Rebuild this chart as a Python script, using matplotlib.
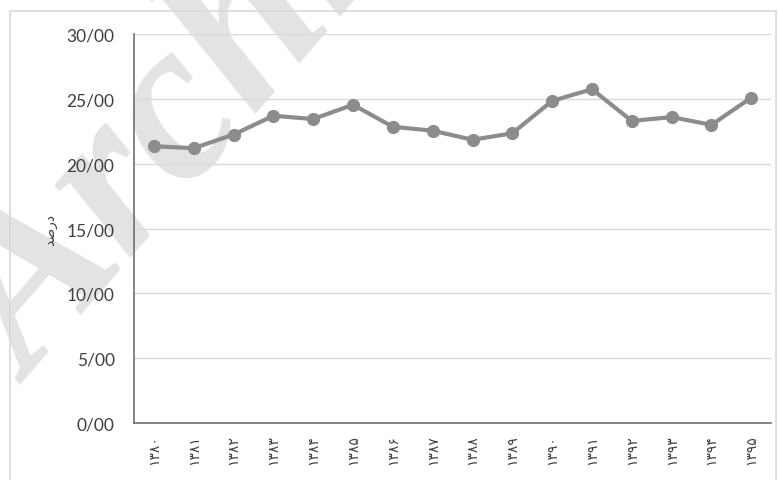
import matplotlib
matplotlib.use("Agg")
from matplotlib import pyplot as plt
from matplotlib.patches import Rectangle
from matplotlib.ticker import FuncFormatter, MultipleLocator

years = ["۱۳۸۰", "۱۳۸۱", "۱۳۸۲", "۱۳۸۳", "۱۳۸۴", "۱۳۸۵", "۱۳۸۶", "۱۳۸۷",
         "۱۳۸۸", "۱۳۸۹", "۱۳۹۰", "۱۳۹۱", "۱۳۹۲", "۱۳۹۳", "۱۳۹۴", "۱۳۹۵"]
percent = [21.35, 21.2, 22.25, 23.7, 23.45, 24.55, 22.85, 22.55,
           21.85, 22.35, 24.85, 25.75, 23.3, 23.6, 23.0, 25.1]

# "درصد" in presentation forms, visual order
ylabel = "\uFEAA\uFEBB\uFEAD\uFEA9"

plt.rcParams['font.family'] = ['Lato', 'DejaVu Sans']

fig = plt.figure(figsize=(7.79, 4.81), dpi=100)
ax = fig.add_axes([0.172, 0.1185, 0.818, 0.8085])
ax.set_zorder(1)

# watermark, behind everything
fig.text(32/779, 1 - 385/481, "Archive", fontsize=165, family='Liberation Serif',
         style='italic', weight='bold', color='#e3e3e3', rotation=49,
         ha='left', va='baseline', rotation_mode='anchor', zorder=-1)
fig.patches.append(Rectangle((10/779, -0.1), 766/779, 1 - 12/481 + 0.1,
                             transform=fig.transFigure, fill=False,
                             edgecolor='#d9d9d9', linewidth=1.2))

x = list(range(len(years)))
ax.plot(x, percent, color='#8c8c8c', linewidth=3, marker='o', markersize=8.5,
        markerfacecolor='#8c8c8c', markeredgecolor='#8c8c8c', zorder=3)

ax.set_xlim(-0.5, len(years) - 0.5)
ax.set_ylim(0, 30)
ax.yaxis.set_major_locator(MultipleLocator(5))
ax.yaxis.set_major_formatter(FuncFormatter(lambda v, p: f"{v:.2f}".replace('.', '/')))
ax.set_xticks(x)
ax.set_xticklabels(years, rotation=90, fontsize=10, family='DejaVu Sans', color='#404040')
ax.tick_params(axis='y', length=0, pad=14, labelsize=12.5, labelcolor='#404040')
ax.tick_params(axis='x', length=0, pad=8)

ax.grid(axis='y', color='#d9d9d9', linewidth=1)
ax.set_axisbelow(True)
ax.patch.set_alpha(0)
for s in ['top', 'right']:
    ax.spines[s].set_visible(False)
for s in ['left', 'bottom']:
    ax.spines[s].set_color('#707070')
    ax.spines[s].set_linewidth(1.2)

ax.text(-0.132, 0.5, ylabel, transform=ax.transAxes, rotation=90, fontsize=10,
        family='DejaVu Sans', color='#404040', ha='center', va='center')

fig.savefig("out.png", dpi=100)
